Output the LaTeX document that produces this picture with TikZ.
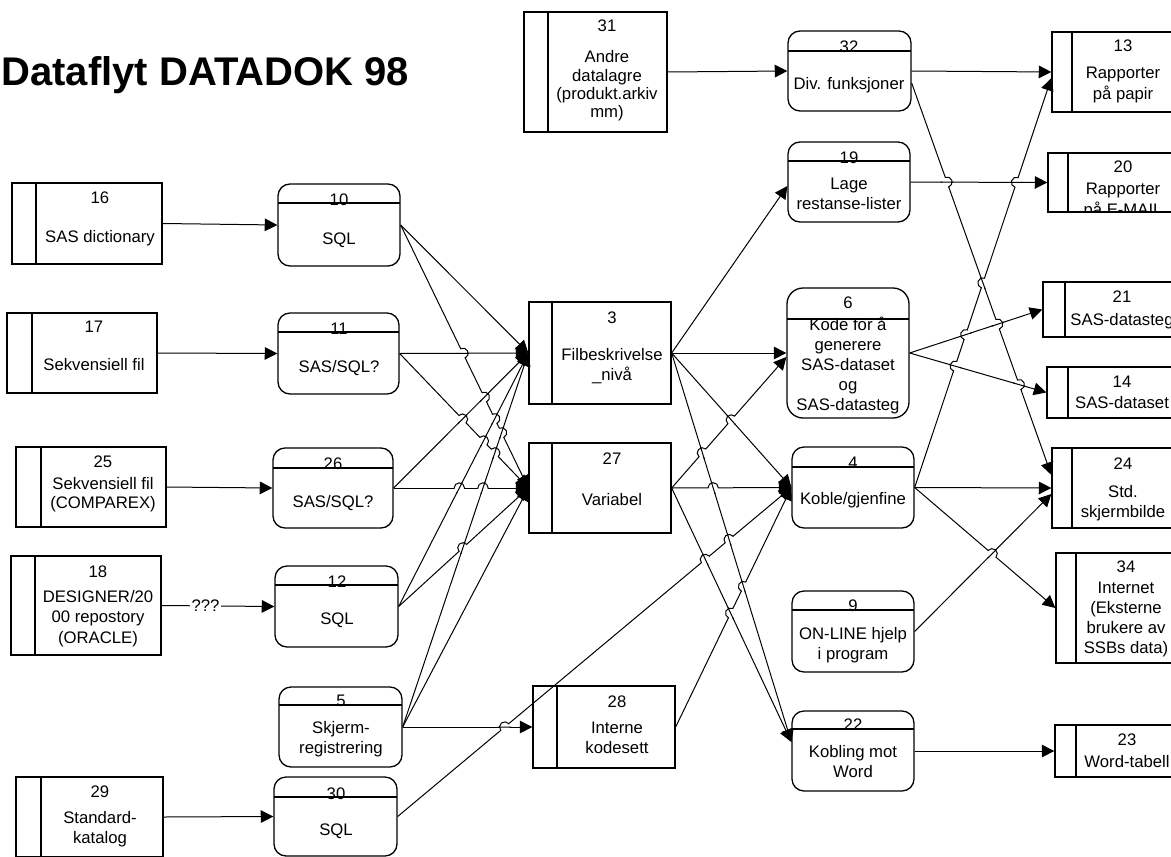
\documentclass[tikz,border=0pt]{standalone}
\usepackage{fontspec}
\setmainfont{Liberation Sans}
\usetikzlibrary{arrows.meta,calc,fit}
\newcommand\mkstore[6]{%
  \node[storeshape, fit={(#2,#3) (#4,#5)}] (#1) {};
  \draw[boxline] (#6,#3) -- (#6,#5);}
\newcommand\mkproc[7][6pt]{%
  \node[procshape, rounded corners=#1, fit={(#3,#4) (#5,#6)}] (#2) {};
  \draw[boxline] (#3,#7) -- (#5,#7);}
\newcommand\mktxt[5]{%
  \foreach \lbltext [count=\i] in {#5} {\node[lbl, anchor=base] (#1-\i) at (#2,{#3+(\i-1)*#4}) {\lbltext};}}
\newcommand\mkhop[4]{%
  \path let \p1=($(#2)-(#1)$), \n1={atan2(\y1,\x1)} in \pgfextra{\xdef\hopang{\n1}};
  \coordinate (hp) at (intersection of #1--#2 and #3--#4);
  \fill[white] (hp) circle[radius=2.4pt];
  \draw[conn] ($(hp)!3.2pt!(#3)$) -- ($(hp)!3.2pt!(#4)$);
  \draw[conn, shift={(hp)}, rotate=\hopang] (-2.6pt,0pt) arc[start angle=180, end angle=0, radius=2.6pt];}
\begin{document}
\begin{tikzpicture}[x=0.5pt,y=-0.5pt,
  boxline/.style={line width=0.65pt},
  storeshape/.style={draw, line width=0.65pt, inner sep=0pt, rectangle},
  procshape/.style={draw, line width=0.65pt, inner sep=0pt, rectangle},
  lbl/.style={font=\fontsize{8.35}{10}\selectfont, inner sep=0pt},
  qlbl/.style={font=\fontsize{8.35}{10}\selectfont, inner sep=0.6pt, fill=white},
  conn/.style={line width=0.5pt},
  flow/.style={line width=0.5pt, -{Triangle[length=6.3pt,width=6.3pt]}}]
\useasboundingbox (0,0) rectangle (1171,856);
\clip (0,0) rectangle (1171,856);

\node[anchor=base west, inner sep=0pt, font=\bfseries\fontsize{20}{24}\selectfont] (title) at (1,86) {Dataflyt DATADOK 98};

% data stores
\mkstore{n31}{524}{12}{667}{132}{548}
\mkstore{n16}{12}{183}{162}{264}{36}
\mkstore{n17}{7}{313}{157}{393}{32}
\mkstore{n25}{16}{447}{166}{527}{41}
\mkstore{n18}{11}{556}{161}{655}{35}
\mkstore{n29}{16}{777}{163}{857}{41}
\mkstore{n3}{529}{302}{671}{404}{552}
\mkstore{n27}{529}{443}{671}{533}{552}
\mkstore{n28}{533}{686}{675}{768}{557}
\mkstore{n13}{1052}{32}{1190}{112}{1072}
\mkstore{n20}{1048}{153}{1190}{212}{1068}
\mkstore{n21}{1043}{282}{1190}{337}{1065}
\mkstore{n14}{1047}{367}{1190}{418}{1068}
\mkstore{n24}{1052}{448}{1190}{528}{1072}
\mkstore{n34}{1056}{553}{1190}{663}{1076}
\mkstore{n23}{1055}{725}{1190}{777}{1076}

% processes
\mkproc{n32}{788}{31}{911}{111}{51}
\mkproc{n19}{788}{142}{910}{222}{161}
\mkproc[8pt]{n6}{787}{288}{909}{418}{319}
\mkproc{n4}{792}{447}{914}{528}{467}
\mkproc{n9}{792}{591}{914}{672}{610}
\mkproc{n22}{792}{711}{914}{791}{729}
\mkproc{n10}{278}{184}{400}{266}{203}
\mkproc{n11}{278}{313}{399}{394}{332}
\mkproc{n26}{273}{448}{393}{528}{468}
\mkproc{n12}{275}{566}{398}{647}{585}
\mkproc{n5}{279}{687}{402}{767}{705}
\mkproc{n30}{274}{777}{397}{856}{797}

% connector end points
\coordinate (o10) at (n10.east);
\coordinate (o11) at (n11.east);
\coordinate (o26) at (n26.east);
\coordinate (o12) at (n12.east);
\coordinate (o5) at (n5.east);
\coordinate (o30) at (n30.east);
\coordinate (i3) at (n3.west);
\coordinate (i27) at (n27.west);
\coordinate (i28) at (n28.west);
\coordinate (o3) at (n3.east);
\coordinate (o27) at (n27.east);
\coordinate (o28) at (n28.east);
\coordinate (i19) at ($(n19.west)+(0,4)$);
\coordinate (i6b) at ($(n6.west)+(0,4)$);
\coordinate (i4) at (n4.west);
\coordinate (i22) at ($(n22.west)+(0,-9)$);
\coordinate (o32b) at ($(n32.east)+(0,12)$);
\coordinate (o19) at (n19.east);
\coordinate (o6) at (n6.east);
\coordinate (o4) at (n4.east);
\coordinate (o9) at (n9.east);
\coordinate (i13b) at ($(n13.west)+(0,6)$);
\coordinate (i20) at (n20.west);
\coordinate (i21) at (n21.west);
\coordinate (i14) at (n14.west);
\coordinate (i24a) at ($(n24.west)+(0,-13)$);
\coordinate (i24b) at ($(n24.west)+(0,6)$);
\coordinate (i34) at (n34.west);

% flows
\draw[flow] (n31.east) -- (n32.west);
\draw[flow] (n16.east) -- (n10.west);
\draw[flow] (n17.east) -- (n11.west);
\draw[flow] (n25.east) -- (n26.west);
\draw[flow] (n18.east) -- node[qlbl, pos=0.39] (q18) {???} (n12.west);
\draw[flow] (n29.east) -- (n30.west);

\draw[flow] (n10.east) -- (n3.west);
\draw[flow] (n11.east) -- (n3.west);
\draw[flow] (n26.east) -- (n3.west);
\draw[flow] (n12.east) -- (n3.west);
\draw[flow] (n5.east) -- (n3.west);
\draw[flow] (n10.east) -- (n27.west);
\draw[flow] (n11.east) -- (n27.west);
\draw[flow] (n26.east) -- (n27.west);
\draw[flow] (n12.east) -- (n27.west);
\draw[flow] (n5.east) -- (n27.west);
\draw[flow] (n5.east) -- (n28.west);
\draw[flow] (n30.east) -- (n4.west);

\draw[flow] (n3.east) -- (i19);
\draw[flow] (n3.east) -- (n6.west);
\draw[flow] (n3.east) -- (n4.west);
\draw[flow] (n3.east) -- (i22);
\draw[flow] (n27.east) -- (i6b);
\draw[flow] (n27.east) -- (n4.west);
\draw[flow] (n27.east) -- (i22);
\draw[flow] (n28.east) -- (n4.west);

\draw[flow] (n32.east) -- (n13.west);
\draw[flow] (o32b) -- (i24a);
\draw[flow] (n19.east) -- (n20.west);
\draw[flow] (n6.east) -- (n21.west);
\draw[flow] (n6.east) -- (n14.west);
\draw[flow] (n4.east) -- (i13b);
\draw[flow] (n4.east) -- (n24.west);
\draw[flow] (n4.east) -- (n34.west);
\draw[flow] (n9.east) -- (i24b);
\draw[flow] (n22.east) -- (n23.west);

% line jumps
\mkhop{o10}{i27}{o11}{i3}
\mkhop{o10}{i27}{o26}{i3}
\mkhop{o10}{i27}{o12}{i3}
\mkhop{o10}{i27}{o5}{i3}
\mkhop{o11}{i27}{o26}{i3}
\mkhop{o11}{i27}{o12}{i3}
\mkhop{o11}{i27}{o5}{i3}
\mkhop{o26}{i27}{o12}{i3}
\mkhop{o26}{i27}{o5}{i3}
\mkhop{o12}{i27}{o5}{i3}
\mkhop{o30}{i4}{o5}{i28}
\mkhop{o30}{i4}{o27}{i22}
\mkhop{o30}{i4}{o3}{i22}
\mkhop{o27}{i6b}{o3}{i4}
\mkhop{o27}{i6b}{o3}{i22}
\mkhop{o27}{i4}{o3}{i22}
\mkhop{o28}{i4}{o3}{i22}
\mkhop{o28}{i4}{o27}{i22}
\mkhop{o32b}{i24a}{o19}{i20}
\mkhop{o32b}{i24a}{o6}{i21}
\mkhop{o32b}{i24a}{o6}{i14}
\mkhop{o4}{i13b}{o19}{i20}
\mkhop{o4}{i13b}{o32b}{i24a}
\mkhop{o4}{i13b}{o6}{i21}
\mkhop{o4}{i13b}{o6}{i14}
\mkhop{o4}{i34}{o9}{i24b}

% numbers
\node[lbl, anchor=base] (t31n) at (607,32) {31};
\node[lbl, anchor=base] (t13n) at (1123,52) {13};
\node[lbl, anchor=base] (t20n) at (1123,172) {20};
\node[lbl, anchor=base] (t21n) at (1122,302) {21};
\node[lbl, anchor=base] (t14n) at (1122,387) {14};
\node[lbl, anchor=base] (t24n) at (1123,469) {24};
\node[lbl, anchor=base] (t34n) at (1126,572) {34};
\node[lbl, anchor=base] (t23n) at (1127,745) {23};
\node[lbl, anchor=base] (t16n) at (100,203) {16};
\node[lbl, anchor=base] (t17n) at (94,332) {17};
\node[lbl, anchor=base] (t25n) at (103,467) {25};
\node[lbl, anchor=base] (t18n) at (98,577) {18};
\node[lbl, anchor=base] (t29n) at (100,797) {29};
\node[lbl, anchor=base] (t3n) at (612,323) {3};
\node[lbl, anchor=base] (t27n) at (612,464) {27};
\node[lbl, anchor=base] (t28n) at (617,707) {28};
\node[lbl, anchor=base] (t10n) at (339,205) {10};
\node[lbl, anchor=base] (t11n) at (339,334) {11};
\node[lbl, anchor=base] (t26n) at (333,469) {26};
\node[lbl, anchor=base] (t12n) at (337,587) {12};
\node[lbl, anchor=base] (t5n) at (341,706) {5};
\node[lbl, anchor=base] (t30n) at (336,799) {30};
\node[lbl, anchor=base] (t32n) at (849,53) {32};
\node[lbl, anchor=base] (t19n) at (849,163) {19};
\node[lbl, anchor=base] (t6n) at (848,308) {6};
\node[lbl, anchor=base] (t4n) at (853,468) {4};
\node[lbl, anchor=base] (t9n) at (853,611) {9};
\node[lbl, anchor=base] (t22n) at (853,730) {22};

% labels
\mktxt{t31}{607}{63}{18.3}{Andre, datalagre, {(produkt.arkiv}, {mm)}}
\mktxt{t13}{1123}{79}{20}{Rapporter, på papir}
\begin{scope}
  \clip (1069,154) rectangle (1190,211.4);
  \mktxt{t20}{1123}{194}{21}{Rapporter, på E-MAIL}
\end{scope}
\mktxt{t21}{1122}{325}{20}{SAS-datasteg}
\mktxt{t14}{1122}{408}{20}{SAS-dataset}
\mktxt{t24}{1123}{497}{20}{Std., skjermbilde}
\mktxt{t34}{1126}{593}{20}{Internet, {(Eksterne}, brukere av, {SSBs data)}}
\mktxt{t23}{1127}{767}{20}{Word-tabell}
\mktxt{t16}{100}{242}{20}{SAS dictionary}
\mktxt{t17}{94}{370}{20}{Sekvensiell fil}
\mktxt{t25}{103}{489}{19}{Sekvensiell fil, {(COMPAREX)}}
\mktxt{t18}{98}{602}{20.5}{DESIGNER/20, 00 repostory, {(ORACLE)}}
\mktxt{t29}{100}{823}{20}{Standard-, katalog}
\mktxt{t3}{612}{360}{20}{Filbeskrivelse, \_nivå}
\mktxt{t27}{612}{505}{20}{Variabel}
\mktxt{t28}{617}{733}{20}{Interne, kodesett}
\mktxt{t10}{339}{244}{20}{SQL}
\mktxt{t11}{339}{372}{20}{SAS/SQL?}
\mktxt{t26}{333}{507}{20}{SAS/SQL?}
\mktxt{t12}{337}{624}{20}{SQL}
\mktxt{t5}{341}{733}{20}{Skjerm-, registrering}
\mktxt{t30}{336}{835}{20}{SQL}
\mktxt{t32}{849}{90}{20}{Div. funksjoner}
\mktxt{t19}{849}{189}{20}{Lage, restanse-lister}
\mktxt{t6}{848}{330}{20}{Kode for å, generere, SAS-dataset, og, SAS-datasteg}
\mktxt{t4}{853}{504}{20}{Koble/gjenfine}
\mktxt{t9}{853}{639}{20}{ON-LINE hjelp, i program}
\mktxt{t22}{853}{757}{20}{Kobling mot, Word}
\end{tikzpicture}
\end{document}
